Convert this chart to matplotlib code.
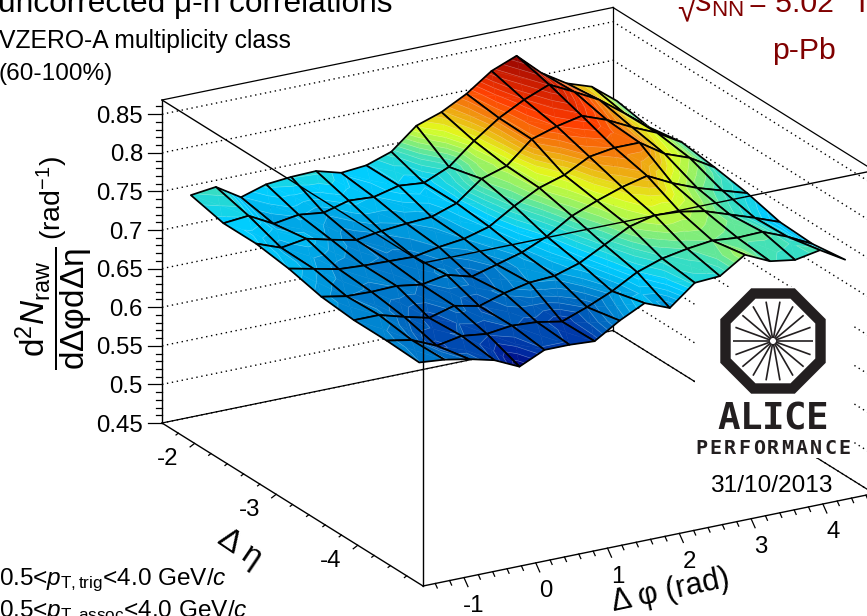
import numpy as np
import matplotlib
matplotlib.use("Agg")
import matplotlib.pyplot as plt
from matplotlib.collections import PolyCollection
from matplotlib.colors import LinearSegmentedColormap
from matplotlib.patches import Rectangle, Polygon

plt.rcParams['font.family'] = ['Liberation Sans', 'DejaVu Sans']
plt.rcParams['mathtext.fontset'] = 'custom'
plt.rcParams['mathtext.rm'] = 'Liberation Sans'
plt.rcParams['mathtext.it'] = 'Liberation Sans:italic'
plt.rcParams['mathtext.bf'] = 'Liberation Sans:bold'

# raw correlation, one list per delta-eta bin, 18 delta-phi bins each
z_eta_1p8 = [.755,.759,.739,.749,.752,.753,.744,.747,.758,.785,.796,.813,.836,.849,.820,.800,.789,.764]
z_eta_2p2 = [.745,.748,.731,.736,.732,.741,.739,.747,.744,.758,.785,.808,.825,.838,.822,.805,.781,.756]
z_eta_2p6 = [.745,.733,.738,.730,.723,.728,.731,.733,.744,.769,.779,.807,.817,.824,.812,.796,.782,.763]
z_eta_3p0 = [.739,.732,.725,.723,.722,.721,.727,.731,.740,.760,.777,.787,.804,.809,.809,.788,.776,.757]
z_eta_3p4 = [.729,.723,.722,.723,.718,.724,.715,.724,.733,.747,.767,.780,.791,.799,.783,.770,.760,.750]
z_eta_3p8 = [.725,.725,.716,.708,.717,.710,.720,.727,.729,.739,.756,.773,.781,.779,.773,.762,.751,.739]
z_eta_4p2 = [.725,.719,.705,.711,.707,.711,.709,.703,.715,.729,.747,.758,.764,.768,.765,.766,.753,.737]
z_eta_4p6 = [.723,.720,.714,.706,.691,.706,.706,.704,.724,.740,.727,.753,.755,.776,.761,.756,.762,.743]

eta_centres = [-1.8, -2.2, -2.6, -3.0, -3.4, -3.8, -4.2, -4.6]
z_ticks = [.45, .5, .55, .6, .65, .7, .75, .8, .85]
z_tick_labels = ['0.45', '0.5', '0.55', '0.6', '0.65', '0.7', '0.75', '0.8', '0.85']
phi_ticks = [-1, 0, 1, 2, 3, 4]
eta_ticks = [-2, -3, -4]

Z = np.array([z_eta_1p8, z_eta_2p2, z_eta_2p6, z_eta_3p0,
              z_eta_3p4, z_eta_3p8, z_eta_4p2, z_eta_4p6])
PHI_MIN, PHI_MAX = -np.pi/2, 3*np.pi/2
ETA_MAX, ETA_MIN = -1.6, -4.8
Z_MIN, Z_MAX = 0.45, 0.8684
phi_centres = PHI_MIN + (np.arange(18)+0.5)*(PHI_MAX-PHI_MIN)/18

# orthographic box, theta ~ 21 phi ~ 30 as in the root canvas (pixels on the page)
X0, Y0 = 162.0, 423.0
PHI_DX, PHI_DY = 451.0/(PHI_MAX-PHI_MIN), -92.5/(PHI_MAX-PHI_MIN)
ETA_DX, ETA_DY = 261.0/(ETA_MAX-ETA_MIN), 163.0/(ETA_MAX-ETA_MIN)
Z_DY = -772.0

def proj(phi, eta, z):
    a, b, c = phi-PHI_MIN, ETA_MAX-eta, z-Z_MIN
    return X0 + a*PHI_DX + b*ETA_DX, Y0 + a*PHI_DY + b*ETA_DY + c*Z_DY

nodes = [(.690,(0,0,120)),(.700,(0,40,160)),(.712,(0,90,185)),(.725,(0,135,210)),
         (.738,(0,190,245)),(.745,(0,205,255)),(.752,(30,215,220)),(.762,(70,225,180)),
         (.772,(140,240,110)),(.785,(225,255,30)),(.795,(235,190,20)),(.808,(245,120,10)),
         (.820,(255,60,0)),(.835,(205,30,0)),(.850,(140,0,0))]
zlo, zhi = nodes[0][0], nodes[-1][0]
cmap = LinearSegmentedColormap.from_list('rootrainbow',
    [((z-zlo)/(zhi-zlo), tuple(v/255 for v in c)) for z, c in nodes], N=256)
levels = np.linspace(zlo-0.004, zhi+0.004, 42)

def clip(poly, lev, above):
    out = []
    for k in range(len(poly)):
        p, q = poly[k], poly[(k+1) % len(poly)]
        pin = (p[2] >= lev) if above else (p[2] <= lev)
        qin = (q[2] >= lev) if above else (q[2] <= lev)
        if pin: out.append(p)
        if pin != qin:
            t = (lev-p[2])/(q[2]-p[2])
            out.append((p[0]+t*(q[0]-p[0]), p[1]+t*(q[1]-p[1]), lev))
    return out

fig = plt.figure(figsize=(8.67, 6.16), dpi=100)
ax = fig.add_axes([0, 0, 1, 1])
ax.set_xlim(0, 867); ax.set_ylim(616, 0); ax.axis('off')

# back walls: dotted grid and frame
for z in z_ticks:
    pts = [proj(PHI_MIN, ETA_MAX, z), proj(PHI_MAX, ETA_MAX, z), proj(PHI_MAX, ETA_MIN, z)]
    ax.plot(*zip(*pts), color='k', lw=1.0, ls=(0, (1, 2.6)), zorder=1)
for a, b in [((PHI_MIN,ETA_MAX,Z_MIN),(PHI_MAX,ETA_MAX,Z_MIN)), ((PHI_MAX,ETA_MAX,Z_MIN),(PHI_MAX,ETA_MIN,Z_MIN)),
             ((PHI_MIN,ETA_MAX,Z_MAX),(PHI_MAX,ETA_MAX,Z_MAX)), ((PHI_MAX,ETA_MAX,Z_MAX),(PHI_MAX,ETA_MIN,Z_MAX)),
             ((PHI_MAX,ETA_MAX,Z_MIN),(PHI_MAX,ETA_MAX,Z_MAX))]:
    ax.plot(*zip(proj(*a), proj(*b)), color='k', lw=0.9, zorder=1)

# white pad of the logo hides the grid
ax.add_patch(Rectangle((695, 287), 158, 171, fc='white', ec='none', zorder=2))

# surface, far cells first: colour bands, thin light band borders, black cell outline
verts, faces, edges, widths = [], [], [], []
def add_poly(v, fc, ec, w):
    verts.append(v); faces.append(fc); edges.append(ec); widths.append(w)

for i in range(Z.shape[1]-2, -1, -1):
    for j in range(Z.shape[0]-1):
        corners = [(i, j), (i+1, j), (i+1, j+1), (i, j+1)]
        pts = [proj(phi_centres[a], eta_centres[b], Z[b, a]) + (Z[b, a],) for a, b in corners]
        cen = np.mean(pts, axis=0)
        borders = []
        for k in range(4):
            tri = [pts[k], pts[(k+1) % 4], tuple(cen)]
            zs = [p[2] for p in tri]
            for l0, l1 in zip(levels[:-1], levels[1:]):
                if max(zs) < l0 or min(zs) > l1:
                    continue
                band = clip(clip(tri, l0, True), l1, False)
                if len(band) < 3:
                    continue
                col = cmap((0.5*(l0+l1)-zlo)/(zhi-zlo))
                add_poly([(p[0], p[1]) for p in band], col, col, 0.35)
                cut = [(p[0], p[1]) for p in band if p[2] == l1 and p[2] not in zs]
                if len(cut) == 2:
                    borders.append(cut)
        for cut in borders:
            add_poly(cut, (0, 0, 0, 0), (1, 1, 1, 0.3), 0.45)
        add_poly([(p[0], p[1]) for p in pts], (0, 0, 0, 0), (0, 0, 0, 1), 1.25)
ax.add_collection(PolyCollection(verts, facecolors=faces, edgecolors=edges, linewidths=widths, zorder=3))

# front frame drawn over the surface
for a, b in [((PHI_MIN,ETA_MAX,Z_MIN),(PHI_MIN,ETA_MAX,Z_MAX)), ((PHI_MIN,ETA_MIN,Z_MIN),(PHI_MIN,ETA_MIN,Z_MAX)),
             ((PHI_MIN,ETA_MAX,Z_MAX),(PHI_MIN,ETA_MIN,Z_MAX)), ((PHI_MIN,ETA_MIN,Z_MAX),(PHI_MAX,ETA_MIN,Z_MAX)),
             ((PHI_MIN,ETA_MAX,Z_MIN),(PHI_MIN,ETA_MIN,Z_MIN)), ((PHI_MIN,ETA_MIN,Z_MIN),(PHI_MAX,ETA_MIN,Z_MIN))]:
    ax.plot(*zip(proj(*a), proj(*b)), color='k', lw=1.0, zorder=4)

# z axis ticks
for z in np.arange(0.45, 0.8601, 0.01):
    x, y = proj(PHI_MIN, ETA_MAX, z)
    major = abs(z/0.05-round(z/0.05)) < 1e-6
    ax.plot([x-(14 if major else 6.5), x], [y, y], color='k', lw=0.9, zorder=4)
for z, lab in zip(z_ticks, z_tick_labels):
    x, y = proj(PHI_MIN, ETA_MAX, z)
    ax.text(x-19, y, lab, fontsize=17.3, ha='right', va='center_baseline')

# eta axis ticks
for e in np.arange(-1.8, -4.71, -0.2):
    x, y = proj(PHI_MIN, e, Z_MIN)
    major = abs(e-round(e)) < 1e-6
    s = 1.0 if major else 0.5
    ax.plot([x, x-4.5*s], [y, y+3.5*s], color='k', lw=0.9, zorder=4)
for e in eta_ticks:
    x, y = proj(PHI_MIN, e, Z_MIN)
    ax.text(x-27, y+13, str(e), fontsize=17.3, ha='center', va='center_baseline')

# phi axis ticks
for p in np.arange(-1.4, 4.61, 0.2):
    x, y = proj(p, ETA_MIN, Z_MIN)
    major = abs(p-round(p)) < 1e-6
    s = 1.0 if major else 0.5
    ax.plot([x, x+4*s], [y, y+9*s], color='k', lw=0.9, zorder=4)
for p in phi_ticks:
    x, y = proj(p, ETA_MIN, Z_MIN)
    ax.text(x+10, y+26, str(p), fontsize=17.3, ha='center', va='center_baseline')

# axis titles
ax.text(240, 549, 'Δ η', fontsize=23, rotation=-34, ha='center', va='center', rotation_mode='anchor')
ax.text(671, 591, 'Δ φ (rad)', fontsize=22, rotation=12, ha='center', va='center', rotation_mode='anchor')
ax.text(54, 308, r'$\dfrac{\mathrm{d}^{2}\mathit{N}_{\mathrm{raw}}}{\mathrm{d\Delta\varphi d\Delta\eta}}$',
        fontsize=24, rotation=90, ha='center', va='center')
ax.text(52, 198, r'(rad$^{-1}$)', fontsize=20.5, rotation=90, ha='center', va='center')

# labels
ax.text(393, 12, 'uncorrected μ-h correlations', fontsize=22.8, ha='right', va='baseline')
ax.text(-1, 48, 'VZERO-A multiplicity class', fontsize=17.8, ha='left', va='baseline')
ax.text(-1, 80, '(60-100%)', fontsize=17.6, ha='left', va='baseline')
ax.text(-1, 585, r'0.5<$\mathit{p}_{\mathrm{T,trig}}$<4.0 GeV/$\mathit{c}$', fontsize=17.6, ha='left', va='baseline')
ax.text(-1, 617, r'0.5<$\mathit{p}_{\mathrm{T,assoc}}$<4.0 GeV/$\mathit{c}$', fontsize=17.6, ha='left', va='baseline')
red = '#800000'
ax.text(677, 21, '√', fontsize=24, color=red, ha='left', va='baseline')
ax.text(695, 12, r'$\mathit{s}_{\mathrm{NN}}$', fontsize=23, color=red, ha='left', va='baseline')
ax.text(749, 12, '= 5.02', fontsize=21.8, color=red, ha='left', va='baseline')
ax.text(852, 12, 'TeV', fontsize=21.8, color=red, ha='left', va='baseline')
ax.text(804, 59, 'p-Pb', fontsize=21.8, color=red, ha='center', va='baseline')

# logo
lx, ly, lr = 773, 341, 47.5
ang = np.radians(22.5+45*np.arange(8))
ax.add_patch(Polygon(np.c_[lx+lr/np.cos(np.pi/8)*np.cos(ang), ly+lr/np.cos(np.pi/8)*np.sin(ang)],
                     closed=True, fc='white', ec='#231f20', lw=7.5, joinstyle='miter', zorder=5))
for a in np.radians(np.arange(0, 360, 20)):
    ax.plot([lx+3*np.cos(a), lx+40*np.cos(a)], [ly+3*np.sin(a), ly+40*np.sin(a)],
            color='#231f20', lw=1.2, zorder=6, solid_capstyle='butt')
for k, ch in enumerate('ALICE'):
    ax.text(773+(k-2)*22.0, 419, ch, family='DejaVu Sans Mono', fontweight='bold', fontsize=27,
            color='#231f20', ha='center', va='center', zorder=6)
for k, ch in enumerate('PERFORMANCE'):
    ax.text(773+(k-5)*14.3, 449, ch, family='DejaVu Sans Mono', fontweight='bold', fontsize=14.5,
            color='#231f20', ha='center', va='center', zorder=6)
ax.text(771, 492, '31/10/2013', fontsize=17.6, ha='center', va='baseline', zorder=6)

fig.savefig('out.png', dpi=100)
